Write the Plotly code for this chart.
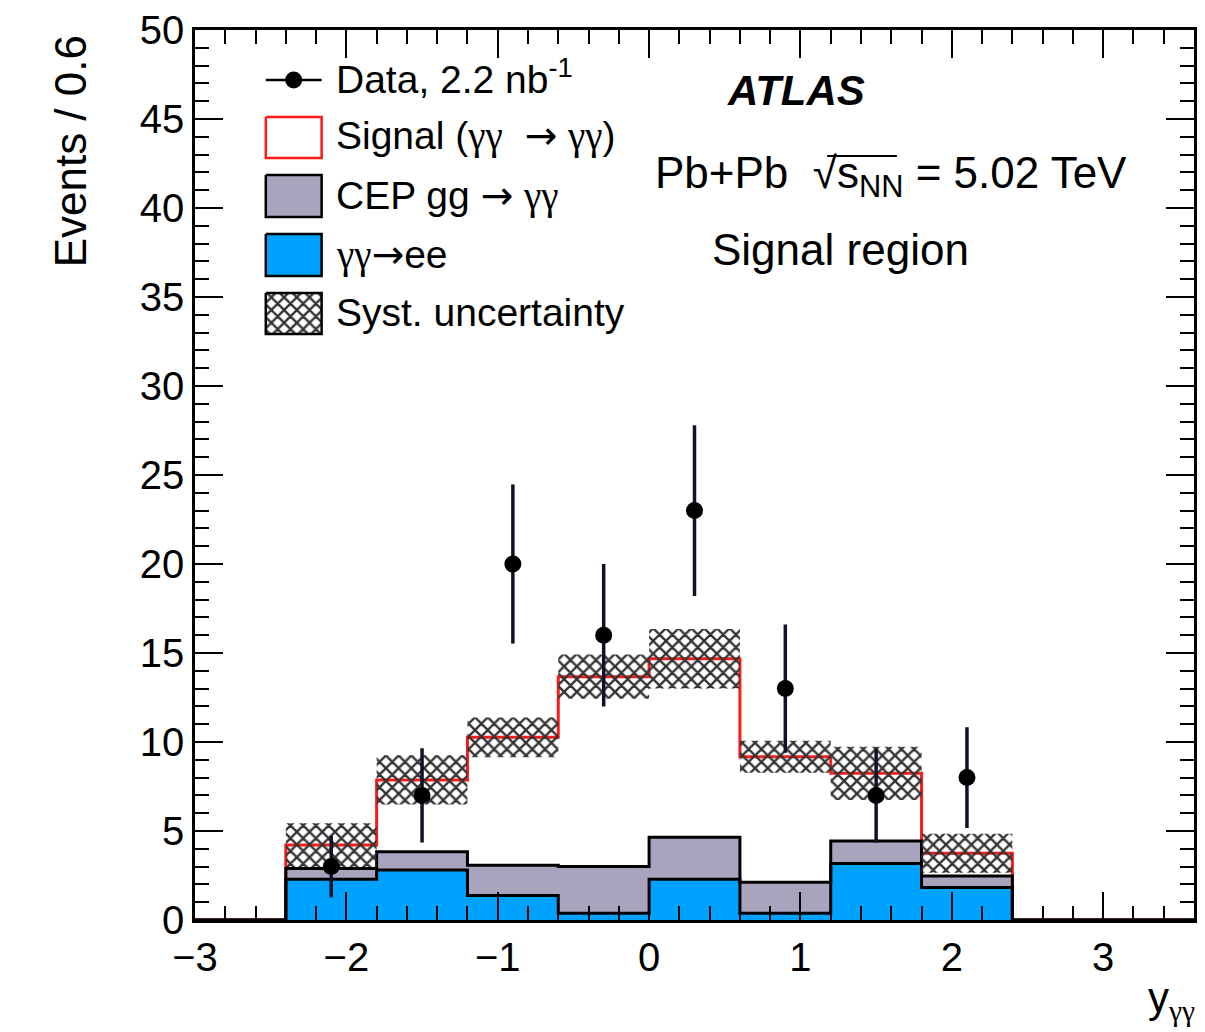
import plotly.graph_objects as go

# ---------------- data ----------------
bin_edges = [-2.4, -1.8, -1.2, -0.6, 0.0, 0.6, 1.2, 1.8, 2.4]
bin_centers = [-2.1, -1.5, -0.9, -0.3, 0.3, 0.9, 1.5, 2.1]
x_lo, x_hi = -3.0, 3.6

ee_vals = [2.29, 2.81, 1.37, 0.38, 2.29, 0.38, 3.18, 1.82]       # gamma gamma -> ee
cep_vals = [0.61, 1.03, 1.71, 2.62, 2.36, 1.74, 1.26, 0.65]      # CEP gg -> gamma gamma
signal_vals = [1.31, 4.03, 7.18, 10.67, 10.03, 7.05, 3.80, 1.28] # signal
syst_err = [1.23, 1.38, 1.12, 1.24, 1.67, 0.90, 1.50, 1.10]

data_vals = [3, 7, 20, 16, 23, 13, 7, 8]
data_err = [1.73, 2.65, 4.47, 4.0, 4.8, 3.6, 2.65, 2.83]

# ---------------- styles ----------------
FONT = "Liberation Sans, Arial, Helvetica, sans-serif"
C_EE = "#00a2ff"
C_CEP = "#a9a3bd"
C_SIG = "#ff1a1a"
HATCH = dict(shape="x", fgcolor="#333333", bgcolor="rgba(0,0,0,0)",
             size=9, solidity=0.45, fillmode="replace")
GG = "<span style=\"font-family:'Liberation Serif'\">γγ</span>"
AR = "<span style=\"font-family:'DejaVu Sans'\">→</span>"

cum_ee = ee_vals
cum_cep = [a + b for a, b in zip(ee_vals, cep_vals)]
cum_tot = [a + b for a, b in zip(cum_cep, signal_vals)]


def step(vals):
    xs = [x_lo] + bin_edges + [x_hi]
    ys = [0] + list(vals) + [0, 0]
    return xs, ys


fig = go.Figure()

# fills
fig.add_trace(go.Bar(x=bin_centers, y=ee_vals, width=0.6, marker=dict(color=C_EE, line=dict(width=0)),
                     showlegend=False, hoverinfo="skip"))
fig.add_trace(go.Bar(x=bin_centers, y=cep_vals, base=cum_ee, width=0.6,
                     marker=dict(color=C_CEP, line=dict(width=0)), showlegend=False, hoverinfo="skip"))

# outlines
xs, ys = step(cum_tot)
fig.add_trace(go.Scatter(x=xs, y=ys, mode="lines", line=dict(color=C_SIG, width=3, shape="hv"),
                         showlegend=False, hoverinfo="skip"))
xs, ys = step(cum_cep)
fig.add_trace(go.Scatter(x=xs, y=ys, mode="lines", line=dict(color="black", width=3, shape="hv"),
                         showlegend=False, hoverinfo="skip"))
xs, ys = step(cum_ee)
fig.add_trace(go.Scatter(x=xs, y=ys, mode="lines", line=dict(color="black", width=3, shape="hv"),
                         showlegend=False, hoverinfo="skip"))

# systematic band
bx, by = [], []
for i, t in enumerate(cum_tot):
    l, r = bin_edges[i], bin_edges[i + 1]
    lo, hi = t - syst_err[i], t + syst_err[i]
    bx += [l, r, r, l, l, None]
    by += [lo, lo, hi, hi, lo, None]
fig.add_trace(go.Scatter(x=bx, y=by, mode="lines", fill="toself", fillcolor="rgba(0,0,0,0)",
                         fillpattern=HATCH, line=dict(width=0, color="rgba(0,0,0,0)"),
                         showlegend=False, hoverinfo="skip"))

# data
fig.add_trace(go.Scatter(x=bin_centers, y=data_vals, mode="markers",
                         marker=dict(color="black", size=17),
                         error_y=dict(type="data", array=data_err, thickness=3.5, width=0, color="#10122a"),
                         showlegend=False))

# ---------------- hand-made legend (pixel-like overlay axes) ----------------
def box(y0, y1, fillcolor, linecolor, pattern=None):
    kw = dict(x=[266, 322, 322, 266, 266], y=[y0, y0, y1, y1, y0], mode="lines", fill="toself",
              fillcolor=fillcolor, line=dict(color=linecolor, width=2.5), xaxis="x2", yaxis="y2",
              showlegend=False, hoverinfo="skip")
    if pattern:
        kw["fillpattern"] = pattern
    fig.add_trace(go.Scatter(**kw))


fig.add_trace(go.Scatter(x=[266, 322], y=[80, 80], mode="lines", line=dict(color="black", width=2.5),
                         xaxis="x2", yaxis="y2", showlegend=False, hoverinfo="skip"))
fig.add_trace(go.Scatter(x=[294], y=[80], mode="markers", marker=dict(color="black", size=17),
                         xaxis="x2", yaxis="y2", showlegend=False, hoverinfo="skip"))
box(117, 158, "white", C_SIG)
box(175, 217, C_CEP, "black")
box(234, 276, C_EE, "black")
box(293, 334, "rgba(0,0,0,0)", "black", HATCH)

legend_texts = ["Data, 2.2 nb<sup>-1</sup>",
                "Signal (" + GG + "  " + AR + " " + GG + ")",
                "CEP gg " + AR + " " + GG,
                GG + AR + "ee",
                "Syst. uncertainty"]
legend_y = [76, 135, 195, 254, 312]
annotations = []
for t, y in zip(legend_texts, legend_y):
    annotations.append(dict(x=334, y=y, xref="x2", yref="y2", text=t, showarrow=False,
                            xanchor="left", yanchor="middle", font=dict(family=FONT, size=39, color="black")))

PX = lambda px: (px - 195) / 1002.0
PY = lambda py: (920 - py) / 890.0

annotations += [
    dict(x=798, y=90, xref="x2", yref="y2", text="<b><i>ATLAS</i></b>", showarrow=False,
         xanchor="center", yanchor="middle", font=dict(family=FONT, size=42, color="black")),
    dict(x=654, y=176, xref="x2", yref="y2", text="Pb+Pb  √s<sub>NN</sub> = 5.02 TeV", showarrow=False,
         xanchor="left", yanchor="middle", font=dict(family=FONT, size=44, color="black")),
    dict(x=842, y=249, xref="x2", yref="y2", text="Signal region", showarrow=False,
         xanchor="center", yanchor="middle", font=dict(family=FONT, size=44, color="black")),
    dict(x=PX(70), y=PY(151), xref="paper", yref="paper", text="Events / 0.6", showarrow=False,
         textangle=-90, xanchor="center", yanchor="middle", font=dict(family=FONT, size=44, color="black")),
    dict(x=PX(1200), y=PY(972), xref="paper", yref="paper", text="y<sub>" + GG + "</sub>", showarrow=False,
         xanchor="right", yanchor="top", font=dict(family=FONT, size=42, color="black")),
]

axis_common = dict(showgrid=False, zeroline=False, showline=True, linecolor="black", linewidth=2.5,
                   mirror="ticks", ticks="inside", tickwidth=2, tickcolor="black", ticklen=28,
                   tickfont=dict(family=FONT, size=40, color="black"))

fig.update_layout(
    width=1205, height=1032,
    margin=dict(l=195, r=8, t=30, b=112),
    paper_bgcolor="white", plot_bgcolor="white",
    barmode="overlay", bargap=0,
    showlegend=False,
    xaxis=dict(range=[x_lo, x_hi], tick0=0, dtick=1,
               minor=dict(dtick=0.2, ticklen=14, tickwidth=2, tickcolor="black", ticks="inside"),
               **axis_common),
    yaxis=dict(range=[0, 50], tick0=0, dtick=5,
               minor=dict(dtick=1, ticklen=14, tickwidth=2, tickcolor="black", ticks="inside"),
               **axis_common),
    xaxis2=dict(range=[195, 1197], overlaying="x", visible=False, anchor="y2"),
    yaxis2=dict(range=[920, 30], overlaying="y", visible=False, anchor="x2"),
    annotations=annotations,
    shapes=[dict(type="line", xref="x2", yref="y2", x0=829, x1=899, y0=156, y1=156,
                 line=dict(color="black", width=2))],
)

fig.write_html("out.html")
